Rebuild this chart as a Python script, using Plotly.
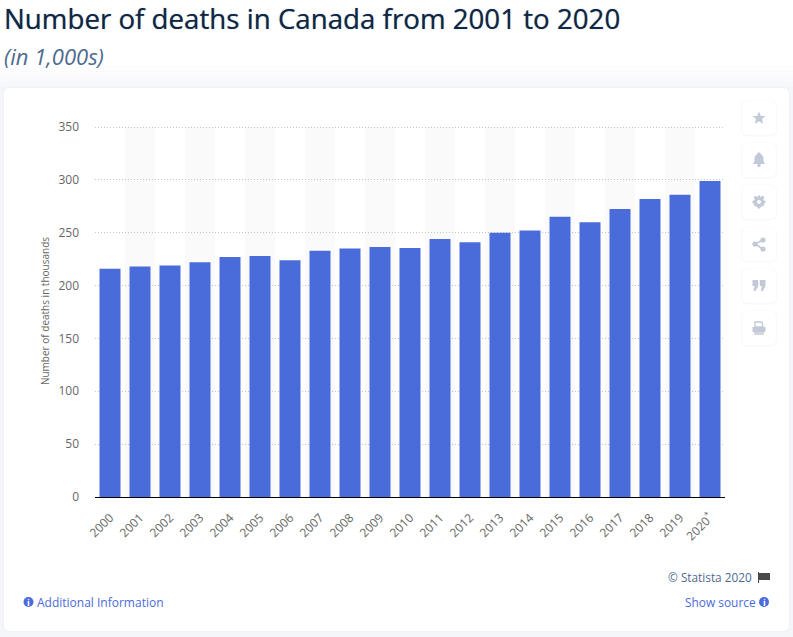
import plotly.graph_objects as go

W, H = 793, 637
LEFT, RIGHT, TOP, BOTTOM = 95, 725, 125, 497
BAND_TOP = 127

years = ['2000', '2001', '2002', '2003', '2004', '2005', '2006', '2007', '2008', '2009', '2010',
         '2011', '2012', '2013', '2014', '2015', '2016', '2017', '2018', '2019', '2020<sup>*</sup>']
deaths = [216, 218, 219, 222, 227, 228, 224, 233, 235, 236.5, 235.5,
          244, 241, 250, 252, 265, 260, 272.5, 282, 286, 299]
y_ticks = [0, 50, 100, 150, 200, 250, 300, 350]

BLUE = '#4a6cdb'
FONT = 'Open Sans'


# paper coordinates are relative to the plot area, so convert from page pixels
def px(x):
    return (x - LEFT) / (RIGHT - LEFT)


def py(y):
    return (BOTTOM - y) / (BOTTOM - TOP)


def round_rect(x0, y0, x1, y1, r):
    return (f'M {px(x0 + r)} {py(y0)} L {px(x1 - r)} {py(y0)} Q {px(x1)} {py(y0)} {px(x1)} {py(y0 + r)} '
            f'L {px(x1)} {py(y1 - r)} Q {px(x1)} {py(y1)} {px(x1 - r)} {py(y1)} '
            f'L {px(x0 + r)} {py(y1)} Q {px(x0)} {py(y1)} {px(x0)} {py(y1 - r)} '
            f'L {px(x0)} {py(y0 + r)} Q {px(x0)} {py(y0)} {px(x0 + r)} {py(y0)} Z')


def poly(points):
    return 'M ' + ' L '.join(f'{px(x)} {py(y)}' for x, y in points) + ' Z'


def paper_shape(path, fill, below=True):
    return dict(type='path', path=path, xref='paper', yref='paper', fillcolor=fill,
                line=dict(width=0), layer='below' if below else 'above')


def circle(cx, cy, r, fill):
    return dict(type='circle', xref='paper', yref='paper', x0=px(cx - r), x1=px(cx + r),
                y0=py(cy + r), y1=py(cy - r), fillcolor=fill, line=dict(width=0), layer='above')


shapes = []

# page background, fading to white behind the title
shapes.append(paper_shape(poly([(0, 0), (W, 0), (W, H), (0, H)]), '#f5f6fa'))
shapes.append(paper_shape(poly([(0, 0), (W, 0), (W, 66), (0, 66)]), '#ffffff'))
for i, c in enumerate(['#fdfdfe', '#fbfbfd', '#f9fafc', '#f7f8fb']):
    shapes.append(paper_shape(poly([(0, 66 + i * 5), (W, 66 + i * 5), (W, 71 + i * 5), (0, 71 + i * 5)]), c))

# card
shapes.append(paper_shape(round_rect(3, 87, 790, 632, 6), '#f1f2f6'))
shapes.append(paper_shape(round_rect(4, 88, 789, 631, 6), '#ffffff'))

# side strip of icon buttons
btn_ys = [101, 143, 185, 227, 269, 311]
for by in btn_ys:
    shapes.append(paper_shape(round_rect(741, by - 0.5, 777, by + 35.5, 6), '#f8f9fb'))
    shapes.append(paper_shape(round_rect(742, by, 776, by + 34, 6), '#ffffff'))

GLYPH = '#c3c9d6'
cx = 759
# star
star = [(0, -6.5), (1.9, -2), (6.5, -2), (3, 1), (4.2, 6), (0, 3.3), (-4.2, 6), (-3, 1), (-6.5, -2), (-1.9, -2)]
shapes.append(paper_shape(poly([(cx + a, 118 + b) for a, b in star]), GLYPH, False))
# bell
bell = [(-6, 5), (-4.5, 2), (-4.5, -2), (-2, -5), (-1, -6.5), (1, -6.5), (2, -5), (4.5, -2), (4.5, 2), (6, 5)]
shapes.append(paper_shape(poly([(cx + a, 159 + b) for a, b in bell]), GLYPH, False))
shapes.append(circle(cx, 165.5, 1.7, GLYPH))
# gear
shapes.append(circle(cx, 202, 5.3, GLYPH))
shapes.append(paper_shape(poly([(cx - 1.3, 195.5), (cx + 1.3, 195.5), (cx + 1.3, 208.5), (cx - 1.3, 208.5)]), GLYPH, False))
shapes.append(paper_shape(poly([(cx - 6.5, 200.7), (cx + 6.5, 200.7), (cx + 6.5, 203.3), (cx - 6.5, 203.3)]), GLYPH, False))
shapes.append(paper_shape(poly([(cx - 5.5, 197.4), (cx - 3.6, 195.5), (cx + 5.5, 204.6), (cx + 3.6, 206.5)]), GLYPH, False))
shapes.append(paper_shape(poly([(cx + 5.5, 197.4), (cx + 3.6, 195.5), (cx - 5.5, 204.6), (cx - 3.6, 206.5)]), GLYPH, False))
shapes.append(circle(cx, 202, 2, '#ffffff'))
# share
shapes.append(dict(type='path', xref='paper', yref='paper', layer='above', line=dict(color=GLYPH, width=1.5),
                   path=f'M {px(cx + 4)} {py(240)} L {px(cx - 4)} {py(244)} L {px(cx + 4)} {py(249)}'))
shapes.append(circle(cx + 4, 240, 2.6, GLYPH))
shapes.append(circle(cx - 4, 244, 2.6, GLYPH))
shapes.append(circle(cx + 4, 249, 2.6, GLYPH))
# quotes
for dx in (-6.5, 0.8):
    shapes.append(paper_shape(poly([(cx + dx, 280), (cx + dx + 5.7, 280), (cx + dx + 5.7, 286),
                                    (cx + dx + 3, 291), (cx + dx + 1, 291), (cx + dx + 2, 286), (cx + dx, 286)]),
                              GLYPH, False))
# printer
shapes.append(dict(type='path', xref='paper', yref='paper', layer='above', line=dict(color=GLYPH, width=1.3),
                   fillcolor='rgba(0,0,0,0)',
                   path=poly([(cx - 4, 322), (cx + 3, 322), (cx + 4, 327), (cx - 4, 327)])))
shapes.append(paper_shape(poly([(cx - 6.5, 327), (cx + 6.5, 327), (cx + 6.5, 332), (cx - 6.5, 332)]), GLYPH, False))
shapes.append(dict(type='path', xref='paper', yref='paper', layer='above', line=dict(color=GLYPH, width=1.3),
                   fillcolor='rgba(0,0,0,0)',
                   path=poly([(cx - 4, 332), (cx + 4, 332), (cx + 4, 334), (cx - 4, 334)])))

# alternating column bands behind the bars
for i, year in enumerate(years):
    if i % 2 == 1:
        shapes.append(dict(type='rect', xref='x', yref='paper', x0=i - 0.5, x1=i + 0.5,
                           y0=0, y1=py(BAND_TOP), fillcolor='#fafafa', line=dict(width=0), layer='below'))

# footer icons
INFO = '#4a6cdb'
shapes.append(circle(28.5, 602, 5, INFO))
shapes.append(circle(764, 602, 5, INFO))
shapes.append(paper_shape(poly([(759, 573), (770, 573), (770, 580), (759, 580)]), '#4a4a4a', False))
shapes.append(paper_shape(poly([(758, 572), (759, 572), (759, 583), (758, 583)]), '#4a4a4a', False))

fig = go.Figure(go.Bar(x=years, y=deaths, marker=dict(color=BLUE, line=dict(width=0)), width=0.7))


def note(text, x, y, size, color, anchor='left', **font):
    fig.add_annotation(text=text, xref='paper', yref='paper', x=px(x), y=py(y), showarrow=False,
                       xanchor=anchor, yanchor='middle', align=anchor,
                       font=dict(family=FONT, size=size, color=color, **font))


note('Number of deaths in Canada from 2001 to 2020', 2, 18, 27.7, '#0f2744', weight=500,
     shadow='0 0 1px rgba(15,39,68,0.6)')
note('(in 1,000s)', 2, 56, 22, '#4e6a8f', style='italic')
note('© Statista 2020', 754, 577, 11.8, '#4e6a8f', anchor='right')
note('Additional Information', 35, 602, 12, BLUE)
note('Show source', 758, 602, 11.9, BLUE, anchor='right')
note('i', 28.5, 602, 9, '#ffffff', anchor='center', weight=700)
note('i', 764, 602, 9, '#ffffff', anchor='center', weight=700)

fig.update_xaxes(type='category', tickangle=-45, showgrid=False, showline=True, linecolor='#000000',
                 linewidth=1, ticks='', ticklabelstandoff=8,
                 tickfont=dict(family=FONT, size=12, color='#666666'))
# range runs 2px past 350, plotly drops gridlines within 1px of the plot edge
fig.update_yaxes(range=[0, 351.9], tickvals=y_ticks, showgrid=True, gridcolor='#c4c4c4', griddash='1px,2px',
                 gridwidth=1, zeroline=False, ticks='', ticklabelstandoff=15,
                 tickfont=dict(family=FONT, size=12, color='#666666'),
                 title=dict(text='Number of deaths in thousands', standoff=6,
                            font=dict(family=FONT, size=10, color='#666666')))

fig.update_layout(width=W, height=H, margin=dict(l=LEFT, r=W - RIGHT, t=TOP, b=H - BOTTOM),
                  paper_bgcolor='#ffffff', plot_bgcolor='rgba(0,0,0,0)', showlegend=False,
                  shapes=shapes, bargap=0.3)

fig.write_html("out.html", config=dict(displayModeBar=False), post_script="document.body.style.margin='0';")
